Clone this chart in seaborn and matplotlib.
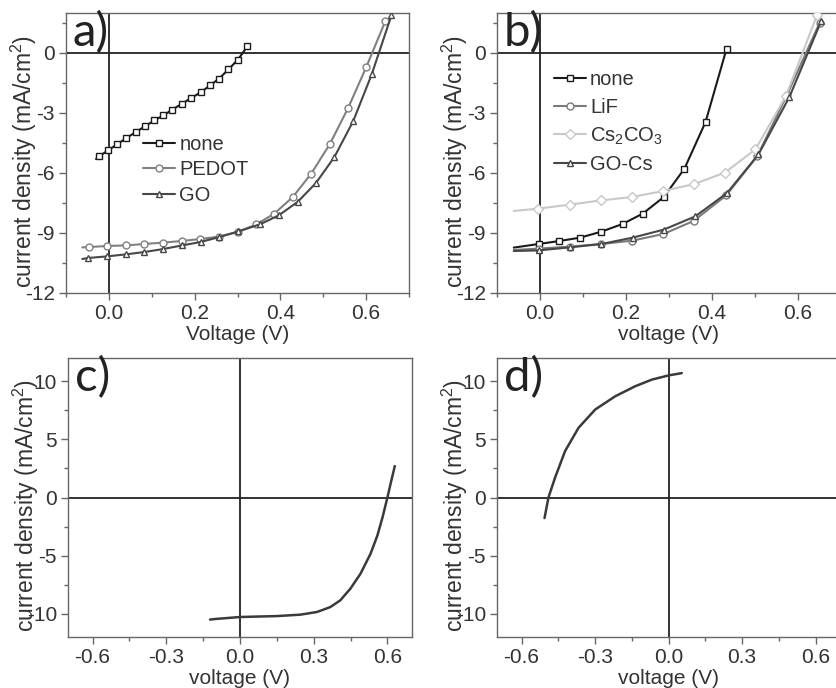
import matplotlib
matplotlib.use("Agg")
import matplotlib.pyplot as plt
import seaborn as sns
from matplotlib.ticker import MultipleLocator, FixedLocator

# ---- panel a: hole transport layers ----
none_a_v = [-0.030, -0.023, -0.002, 0.019, 0.041, 0.063, 0.084, 0.106, 0.127, 0.148,
            0.171, 0.192, 0.214, 0.236, 0.257, 0.279, 0.301, 0.323]
none_a_j = [-5.30, -5.17, -4.87, -4.57, -4.25, -3.95, -3.67, -3.37, -3.12, -2.83,
            -2.53, -2.25, -1.97, -1.62, -1.28, -0.82, -0.33, 0.33]
pedot_v = [-0.062, -0.046, -0.004, 0.040, 0.083, 0.126, 0.170, 0.213, 0.257, 0.300,
           0.344, 0.386, 0.429, 0.472, 0.515, 0.558, 0.600, 0.645]
pedot_j = [-9.72, -9.70, -9.65, -9.62, -9.55, -9.48, -9.40, -9.30, -9.18, -8.95,
           -8.57, -8.03, -7.20, -6.03, -4.57, -2.75, -0.72, 1.60]
go_v = [-0.062, -0.049, -0.005, 0.039, 0.083, 0.127, 0.171, 0.214, 0.258, 0.302,
        0.352, 0.396, 0.440, 0.483, 0.526, 0.570, 0.613, 0.659]
go_j = [-10.30, -10.25, -10.17, -10.07, -9.95, -9.80, -9.62, -9.45, -9.20, -8.92,
        -8.57, -8.12, -7.45, -6.50, -5.20, -3.40, -1.07, 1.88]

# ---- panel b: electron transport layers ----
none_b_v = [-0.061, -0.003, 0.045, 0.094, 0.143, 0.192, 0.239, 0.288, 0.336, 0.385, 0.434]
none_b_j = [-9.73, -9.55, -9.40, -9.23, -8.93, -8.55, -8.03, -7.20, -5.78, -3.45, 0.22]
lif_v = [-0.061, -0.003, 0.070, 0.143, 0.215, 0.287, 0.357, 0.433, 0.505, 0.574, 0.650]
lif_j = [-9.85, -9.78, -9.68, -9.55, -9.38, -9.05, -8.40, -7.12, -5.17, -2.12, 1.50]
cs_v = [-0.061, -0.004, 0.070, 0.142, 0.214, 0.287, 0.359, 0.430, 0.501, 0.572, 0.644]
cs_j = [-7.90, -7.78, -7.58, -7.37, -7.20, -6.90, -6.55, -5.98, -4.82, -2.15, 1.88]
gocs_v = [-0.061, -0.003, 0.069, 0.143, 0.216, 0.288, 0.361, 0.435, 0.508, 0.580, 0.654]
gocs_j = [-9.90, -9.87, -9.72, -9.55, -9.23, -8.83, -8.17, -7.00, -5.07, -2.20, 1.60]

# ---- panels c, d: single devices ----
c_v = [-0.122, -0.10, 0.0, 0.15, 0.245, 0.313, 0.367, 0.408, 0.449, 0.490,
       0.531, 0.559, 0.580, 0.600, 0.614, 0.630]
c_j = [-10.50, -10.45, -10.28, -10.20, -10.08, -9.85, -9.43, -8.85, -7.85, -6.57,
       -4.85, -3.28, -1.71, 0.0, 1.29, 2.70]
d_v = [-0.506, -0.49, -0.463, -0.422, -0.367, -0.299, -0.218, -0.136, -0.068, 0.0, 0.054]
d_j = [-1.77, 0.0, 1.71, 4.0, 6.0, 7.57, 8.7, 9.57, 10.14, 10.5, 10.7]

sns.set_style("ticks")
plt.rcParams["font.family"] = ["Liberation Sans", "DejaVu Sans"]
plt.rcParams["mathtext.fontset"] = "custom"
plt.rcParams["mathtext.rm"] = "Liberation Sans"
plt.rcParams["mathtext.it"] = "Liberation Sans"
plt.rcParams["axes.unicode_minus"] = False

TXT = "#333333"
SPINE = "#666666"
YLABEL = "current density (mA/cm$^2$)"

fig = plt.figure(figsize=(8.36, 6.88), dpi=100)
W, H = 836, 688


def add_axes(left, right, top, bottom):
    return fig.add_axes([left / W, 1 - bottom / H, (right - left) / W, (bottom - top) / H])


def style(ax, xlim, ylim, xmaj, xmin, ymaj, ymin, xlabel, tag):
    ax.set_xlim(*xlim)
    ax.set_ylim(*ylim)
    ax.xaxis.set_major_locator(FixedLocator(xmaj))
    ax.xaxis.set_minor_locator(MultipleLocator(xmin))
    ax.yaxis.set_major_locator(FixedLocator(ymaj))
    ax.yaxis.set_minor_locator(MultipleLocator(ymin))
    ax.set_xticklabels([f"{v:.1f}" for v in xmaj])
    ax.set_yticklabels([f"{v:g}" for v in ymaj])
    ax.tick_params(which="major", direction="out", length=5, width=1, color=SPINE,
                   labelsize=15, labelcolor=TXT, pad=3)
    ax.tick_params(which="minor", direction="out", length=3, width=1, color=SPINE)
    for s in ax.spines.values():
        s.set_color(SPINE)
        s.set_linewidth(1)
        s.set_visible(True)
    ax.axhline(0, color="#222222", lw=1.3, zorder=1)
    ax.axvline(0, color="#222222", lw=1.3, zorder=1)
    ax.set_xlabel(xlabel, fontsize=15, color=TXT, labelpad=1)
    ax.set_ylabel(YLABEL, fontsize=16.5, color=TXT)
    ax.yaxis.set_label_coords(-0.078, 0.47)
    ax.text(0.02, 1.005, tag, transform=ax.transAxes, ha="left", va="top",
            fontsize=34, family="Lato", color="#222222")


def curve(ax, v, j, color, marker, label, skip_first=True):
    sns.lineplot(x=v, y=j, ax=ax, color=color, lw=1.5, marker=marker, markersize=5,
                 markerfacecolor="white", markeredgecolor=color, markeredgewidth=1,
                 markevery=slice(1 if skip_first else 0, None), label=label,
                 sort=False, legend=False, zorder=3)


# panel a
ax_a = add_axes(66, 409, 13, 293)
curve(ax_a, none_a_v, none_a_j, "#1a1a1a", "s", "none")
curve(ax_a, pedot_v, pedot_j, "#808080", "o", "PEDOT")
curve(ax_a, go_v, go_j, "#474747", "^", "GO")
style(ax_a, (-0.1, 0.7), (-12, 2), [0.0, 0.2, 0.4, 0.6], 0.1,
      [0, -3, -6, -9, -12], 1.5, "Voltage (V)", "a)")
ax_a.legend(loc="upper left", bbox_to_anchor=(0.225, 0.565), frameon=False,
            fontsize=14.5, handlelength=1.6, handletextpad=0.2, labelspacing=0.33,
            borderpad=0, borderaxespad=0, labelcolor=TXT)

# panel b
ax_b = add_axes(497, 841, 13, 293)
curve(ax_b, none_b_v, none_b_j, "#1a1a1a", "s", "none")
curve(ax_b, lif_v, lif_j, "#7a7a7a", "o", "LiF")
curve(ax_b, cs_v, cs_j, "#c8c8c8", "D", "Cs$_2$CO$_3$")
curve(ax_b, gocs_v, gocs_j, "#474747", "^", "GO-Cs")
style(ax_b, (-0.1, 0.7), (-12, 2), [0.0, 0.2, 0.4, 0.6], 0.1,
      [0, -3, -6, -9, -12], 1.5, "voltage (V)", "b)")
ax_b.legend(loc="upper left", bbox_to_anchor=(0.165, 0.795), frameon=False,
            fontsize=14.5, handlelength=1.6, handletextpad=0.2, labelspacing=0.42,
            borderpad=0, borderaxespad=0, labelcolor=TXT)

# panel c
ax_c = add_axes(68, 412, 358, 637)
sns.lineplot(x=c_v, y=c_j, ax=ax_c, color="#3a3a3a", lw=1.8, sort=False, zorder=3)
style(ax_c, (-0.7, 0.7), (-12, 12), [-0.6, -0.3, 0.0, 0.3, 0.6], 0.15,
      [-10, -5, 0, 5, 10], 2.5, "voltage (V)", "c)")

# panel d
ax_d = add_axes(497, 840, 358, 637)
sns.lineplot(x=d_v, y=d_j, ax=ax_d, color="#3a3a3a", lw=1.8, sort=False, zorder=3)
style(ax_d, (-0.7, 0.7), (-12, 12), [-0.6, -0.3, 0.0, 0.3, 0.6], 0.15,
      [-10, -5, 0, 5, 10], 2.5, "voltage (V)", "d)")

fig.savefig("out.png", dpi=100, facecolor="white")
